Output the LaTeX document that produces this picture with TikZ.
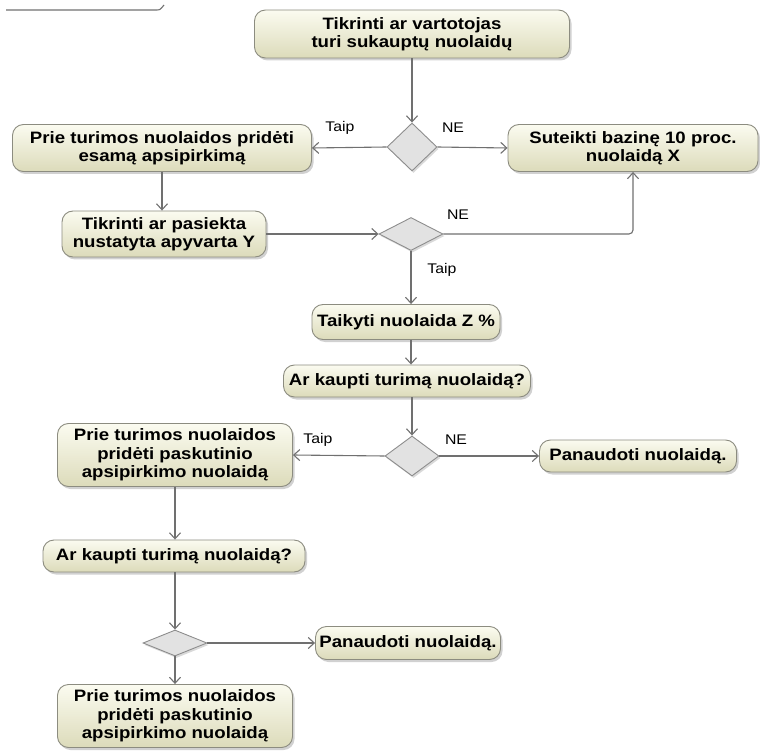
\documentclass[tikz,border=0pt]{standalone}
\usepackage{fontspec}
\setmainfont[FakeStretch=1.13]{Liberation Sans}
\usetikzlibrary{shapes.geometric,arrows.meta,shadows}
\definecolor{boxtop}{RGB}{251,251,240}
\definecolor{boxbot}{RGB}{220,219,186}
\definecolor{boxline}{RGB}{140,140,128}
\definecolor{wire}{RGB}{112,112,112}
\definecolor{dfill}{RGB}{226,226,226}
\begin{document}
\begin{tikzpicture}[x=1pt,y=-1pt,
  actbox/.style={draw=boxline, line width=0.9pt, rounded corners=11pt,
    top color=boxtop, bottom color=boxbot, align=center, inner sep=2pt,
    font=\bfseries\fontsize{16.5}{18.5}\selectfont,
    drop shadow={shadow xshift=2pt, shadow yshift=-2.5pt, fill=black!30, opacity=0.6}},
  decis/.style={shape=diamond, draw=wire!80, line width=0.9pt, fill=dfill,
    inner sep=0pt, drop shadow={shadow xshift=1.5pt, shadow yshift=-2pt, fill=black!25, opacity=0.6}},
  lbl/.style={font=\fontsize{14}{16}\selectfont, inner sep=0pt},
  arr/.style={draw=wire, line width=1.1pt, -{Straight Barb[length=6pt,width=11pt]}},
]
\useasboundingbox (0,0) rectangle (760,751);

% stray line at the upper left
\draw[wire, line width=1.1pt] (6,10) -- (156,10) .. controls (160,10) .. (164,5);

% activities
\node[actbox, minimum width=315, minimum height=48] (check) at (412,34) {Tikrinti ar vartotojas\\turi sukauptų nuolaidų};
\node[actbox, minimum width=299, minimum height=47] (addcur) at (162,148) {Prie turimos nuolaidos pridėti\\esamą apsipirkimą};
\node[actbox, minimum width=250, minimum height=47] (base) at (633,148) {Suteikti bazinę 10 proc.\\nuolaidą X};
\node[actbox, minimum width=204, minimum height=46] (turn) at (164,234) {Tikrinti ar pasiekta\\nustatyta apyvarta Y};
\node[actbox, minimum width=188, minimum height=35] (applyz) at (406,322) {Taikyti nuolaida Z \%};
\node[actbox, minimum width=247, minimum height=32] (acc1) at (407,381) {Ar kaupti turimą nuolaidą?};
\node[actbox, minimum width=197, minimum height=32] (use1) at (638,456) {Panaudoti nuolaidą.};
\node[actbox, minimum width=235, minimum height=63] (addlast1) at (175,455) {Prie turimos nuolaidos\\pridėti paskutinio\\apsipirkimo nuolaidą};
\node[actbox, minimum width=262, minimum height=32] (acc2) at (174,556) {Ar kaupti turimą nuolaidą?};
\node[actbox, minimum width=185, minimum height=33] (use2) at (408,643) {Panaudoti nuolaidą.};
\node[actbox, minimum width=235, minimum height=63] (addlast2) at (175,716) {Prie turimos nuolaidos\\pridėti paskutinio\\apsipirkimo nuolaidą};

% decisions
\node[decis, minimum width=50, minimum height=48] (d1) at (412,147) {};
\node[decis, minimum width=64, minimum height=33] (d2) at (411,234) {};
\node[decis, minimum width=54, minimum height=40] (d3) at (412,456) {};
\node[decis, minimum width=64, minimum height=26] (d4) at (175,643) {};

% flows
\draw[arr] (check.south -| d1.north) -- (d1.north);
\draw[arr] (d1.west) -- (addcur.east);
\draw[arr] (d1.east) -- (base.west);
\draw[arr] (addcur.south) -- (addcur.south |- turn.north);
\draw[arr] (turn.east) -- (d2.west);
\draw[arr, rounded corners=4pt] (d2.east) -| (base.south);
\draw[arr] (d2.south) -- (d2.south |- applyz.north);
\draw[arr] (applyz.south -| d2.south) -- (d2.south |- acc1.north);
\draw[arr] (acc1.south -| d3.north) -- (d3.north);
\draw[arr] (d3.east) -- (use1.west);
\draw[arr] (d3.west) -- (addlast1.east);
\draw[arr] (addlast1.south) -- (addlast1.south |- acc2.north);
\draw[arr] (acc2.south -| d4.north) -- (d4.north);
\draw[arr] (d4.east) -- (use2.west);
\draw[arr] (d4.south) -- (d4.south |- addlast2.north);

% guard labels
\node[lbl] (l1) at (340,128) {Taip};
\node[lbl] (l2) at (453,128) {NE};
\node[lbl] (l3) at (458,215) {NE};
\node[lbl] (l4) at (442,270) {Taip};
\node[lbl] (l5) at (456,440) {NE};
\node[lbl] (l6) at (318,440) {Taip};
\end{tikzpicture}
\end{document}
